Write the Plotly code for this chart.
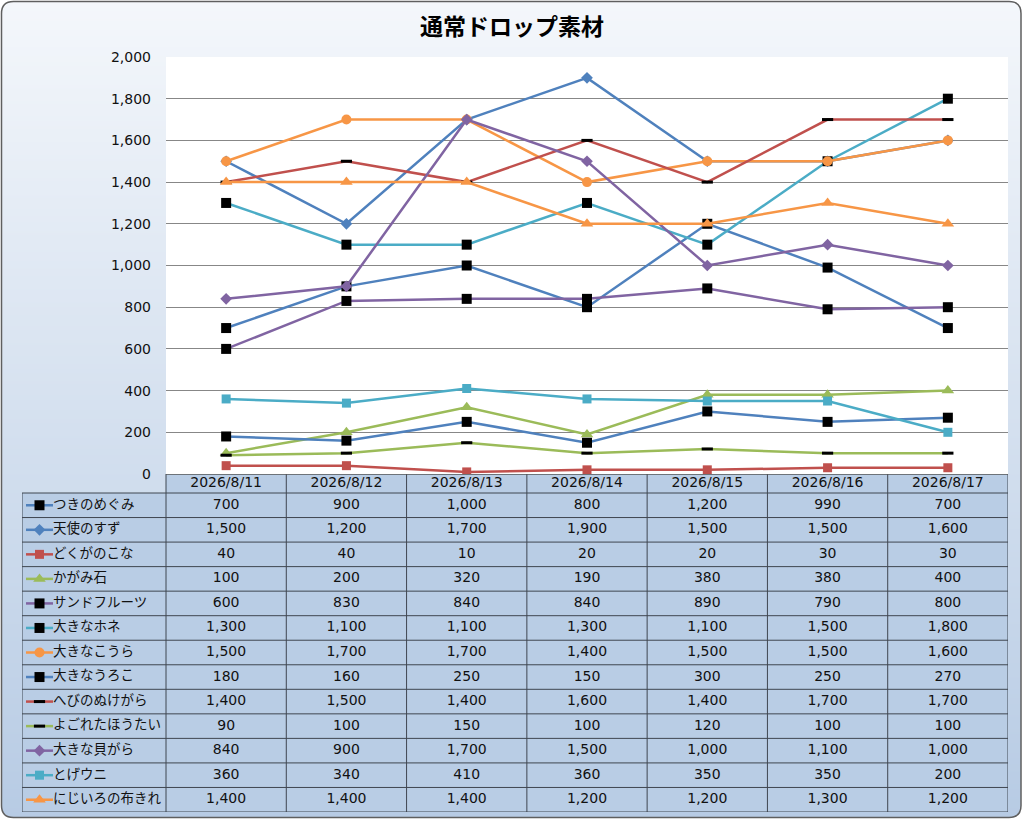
import math
import plotly.graph_objects as go

dates = ['2026/8/11', '2026/8/12', '2026/8/13', '2026/8/14', '2026/8/15', '2026/8/16', '2026/8/17']

names = ['つきのめぐみ', '天使のすず', 'どくがのこな', 'かがみ石', 'サンドフルーツ', '大きなホネ',
         '大きなこうら', '大きなうろこ', 'へびのぬけがら', 'よごれたほうたい', '大きな貝がら',
         'とげウニ', 'にじいろの布きれ']

tsuki_no_megumi = [700, 900, 1000, 800, 1200, 990, 700]
tenshi_no_suzu = [1500, 1200, 1700, 1900, 1500, 1500, 1600]
dokuga_no_kona = [40, 40, 10, 20, 20, 30, 30]
kagami_ishi = [100, 200, 320, 190, 380, 380, 400]
sand_fruits = [600, 830, 840, 840, 890, 790, 800]
ookina_hone = [1300, 1100, 1100, 1300, 1100, 1500, 1800]
ookina_koura = [1500, 1700, 1700, 1400, 1500, 1500, 1600]
ookina_uroko = [180, 160, 250, 150, 300, 250, 270]
hebi_no_nukegara = [1400, 1500, 1400, 1600, 1400, 1700, 1700]
yogoreta_houtai = [90, 100, 150, 100, 120, 100, 100]
ookina_kaigara = [840, 900, 1700, 1500, 1000, 1100, 1000]
toge_uni = [360, 340, 410, 360, 350, 350, 200]
nijiiro_nunokire = [1400, 1400, 1400, 1200, 1200, 1300, 1200]

series = [tsuki_no_megumi, tenshi_no_suzu, dokuga_no_kona, kagami_ishi, sand_fruits,
          ookina_hone, ookina_koura, ookina_uroko, hebi_no_nukegara, yogoreta_houtai,
          ookina_kaigara, toge_uni, nijiiro_nunokire]

BLUE, RED, GREEN, PURPLE, AQUA, ORANGE = '#4F81BD', '#C0504D', '#9BBB59', '#8064A2', '#4BACC6', '#F79646'
# line colour, marker symbol, marker colour, marker size
styles = [
    (BLUE, 'square', 'black', 10),
    (BLUE, 'diamond', BLUE, 9),
    (RED, 'square', RED, 9),
    (GREEN, 'triangle-up', GREEN, 11),
    (PURPLE, 'square', 'black', 10),
    (AQUA, 'square', 'black', 10),
    (ORANGE, 'circle', ORANGE, 10),
    (BLUE, 'square', 'black', 10),
    (RED, 'line-ew', 'black', 8),
    (GREEN, 'line-ew', 'black', 8),
    (PURPLE, 'diamond', PURPLE, 9),
    (AQUA, 'square', AQUA, 9),
    (ORANGE, 'triangle-up', ORANGE, 11),
]

FONT = 'Noto Sans CJK JP'
NUM_FONT = 'DejaVu Sans, Noto Sans CJK JP'
W, H = 1024, 820
PL, PR, PT, PB = 166, 1008, 57, 474      # plot area in pixels
TL, TB, HEAD = 22, 812, 19               # table left / bottom, header height
col_w = (PR - PL) / len(dates)
row_h = (TB - PB - HEAD) / len(names)
x2_left = -0.5 - (PL - TL) / col_w
head_u = HEAD / row_h


def px(x):
    return x / W


def py(y):
    return 1 - y / H


def marker_for(style):
    color, symbol, mcolor, size = style
    if symbol == 'line-ew':
        return dict(symbol=symbol, size=size, line=dict(color=mcolor, width=3))
    return dict(symbol=symbol, size=size, color=mcolor, line=dict(width=0))


fig = go.Figure()

# chart lines
for name, vals, st in zip(names, series, styles):
    fig.add_trace(go.Scatter(
        x=dates, y=vals, name=name, mode='lines+markers',
        line=dict(color=st[0], width=2.5), marker=marker_for(st),
        xaxis='x', yaxis='y', showlegend=False,
    ))

# data table: header, values, legend keys and names
fig.add_trace(go.Scatter(
    x=list(range(len(dates))), y=[-0.5 - head_u / 2] * len(dates), text=dates,
    mode='text', textfont=dict(family=NUM_FONT, size=14, color='#111'),
    xaxis='x2', yaxis='y2', showlegend=False, hoverinfo='skip',
))
for i, vals in enumerate(series):
    fig.add_trace(go.Scatter(
        x=list(range(len(dates))), y=[i] * len(dates), text=[f'{v:,}' for v in vals],
        mode='text', textfont=dict(family=NUM_FONT, size=14, color='#111'),
        xaxis='x2', yaxis='y2', showlegend=False, hoverinfo='skip',
    ))

kx0 = x2_left + 4 / col_w
kx1 = x2_left + 31 / col_w
for i, st in enumerate(styles):
    fig.add_trace(go.Scatter(
        x=[kx0, kx1], y=[i, i], mode='lines', line=dict(color=st[0], width=2.5),
        xaxis='x2', yaxis='y2', showlegend=False, hoverinfo='skip',
    ))
    fig.add_trace(go.Scatter(
        x=[(kx0 + kx1) / 2], y=[i], mode='markers', marker=marker_for(st),
        xaxis='x2', yaxis='y2', showlegend=False, hoverinfo='skip',
    ))
fig.add_trace(go.Scatter(
    x=[x2_left + 31 / col_w] * len(names), y=list(range(len(names))), text=names,
    mode='text', textposition='middle right', textfont=dict(family=FONT, size=13.5, color='#111'),
    xaxis='x2', yaxis='y2', showlegend=False, hoverinfo='skip',
))

shapes = []
# background gradient inside a rounded frame
X0, X1, Y0, Y1, R = 1.5, 1021, 1.5, 817.5, 12
top_c, bot_c = (244, 247, 251), (183, 203, 228)
step = 2
y = Y0
while y < Y1:
    ym = y + step / 2
    inset = 0
    if ym < Y0 + R:
        d = Y0 + R - ym
        inset = R - math.sqrt(max(R * R - d * d, 0))
    elif ym > Y1 - R:
        d = ym - (Y1 - R)
        inset = R - math.sqrt(max(R * R - d * d, 0))
    t = (ym - Y0) / (Y1 - Y0)
    c = tuple(round(a + (b - a) * t) for a, b in zip(top_c, bot_c))
    shapes.append(dict(type='rect', xref='paper', yref='paper', layer='below',
                       x0=px(X0 + inset), x1=px(X1 - inset), y0=py(min(y + step + 0.6, Y1)), y1=py(y),
                       fillcolor=f'rgb{c}', line=dict(width=0)))
    y += step

frame = (f"M {px(X0 + R)},{py(Y0)} L {px(X1 - R)},{py(Y0)} Q {px(X1)},{py(Y0)} {px(X1)},{py(Y0 + R)} "
         f"L {px(X1)},{py(Y1 - R)} Q {px(X1)},{py(Y1)} {px(X1 - R)},{py(Y1)} "
         f"L {px(X0 + R)},{py(Y1)} Q {px(X0)},{py(Y1)} {px(X0)},{py(Y1 - R)} "
         f"L {px(X0)},{py(Y0 + R)} Q {px(X0)},{py(Y0)} {px(X0 + R)},{py(Y0)} Z")
shapes.append(dict(type='path', xref='paper', yref='paper', layer='below', path=frame,
                   line=dict(color='#5f5f5f', width=1.5)))

# white plot area
shapes.append(dict(type='rect', xref='paper', yref='paper', layer='below',
                   x0=px(PL), x1=px(PR), y0=py(PB), y1=py(PT), fillcolor='white', line=dict(width=0)))

# table cells
n = len(names)
last = len(dates) - 0.5
shapes.append(dict(type='rect', xref='x2', yref='y2', layer='below', x0=-0.5, x1=last,
                   y0=-0.5 - head_u, y1=-0.5, fillcolor='#b9cde5', line=dict(width=0)))
shapes.append(dict(type='rect', xref='x2', yref='y2', layer='below', x0=x2_left, x1=last,
                   y0=-0.5, y1=n - 0.5, fillcolor='#b9cde5', line=dict(width=0)))
grid = dict(color='#3f4650', width=1)
for k in range(len(dates) + 1):
    shapes.append(dict(type='line', xref='x2', yref='y2', x0=k - 0.5, x1=k - 0.5,
                       y0=-0.5 - head_u, y1=n - 0.5, line=grid))
shapes.append(dict(type='line', xref='x2', yref='y2', x0=x2_left, x1=x2_left,
                   y0=-0.5, y1=n - 0.5, line=grid))
for r in range(n + 1):
    shapes.append(dict(type='line', xref='x2', yref='y2', x0=x2_left, x1=last,
                       y0=r - 0.5, y1=r - 0.5, line=grid))
shapes.append(dict(type='line', xref='x2', yref='y2', x0=-0.5, x1=last,
                   y0=-0.5 - head_u, y1=-0.5 - head_u, line=dict(color='#555', width=1.5)))

fig.update_layout(
    width=W, height=H,
    margin=dict(l=0, r=0, t=0, b=0),
    paper_bgcolor='white',
    plot_bgcolor='rgba(0,0,0,0)',
    title=dict(text='<b>通常ドロップ素材</b>', x=0.5, xanchor='center', y=py(27), yanchor='middle',
               font=dict(family=FONT, size=23, color='black')),
    font=dict(family=FONT, size=14, color='#111'),
    xaxis=dict(type='category', domain=[px(PL), px(PR)], range=[-0.5, len(dates) - 0.5],
               showticklabels=False, showgrid=False, showline=False, zeroline=False, anchor='y'),
    yaxis=dict(domain=[py(PB), py(PT)], range=[0, 2000], dtick=200, tickformat=',',
               showgrid=True, gridcolor='#878787', gridwidth=1, zeroline=False, showline=False,
               ticks='', ticklabelstandoff=14, automargin=False,
               tickfont=dict(family=NUM_FONT, size=14, color='#111'), anchor='x'),
    xaxis2=dict(domain=[px(TL), px(PR)], range=[x2_left, last], visible=False, anchor='y2'),
    yaxis2=dict(domain=[py(TB), py(PB)], range=[n - 0.5, -0.5 - head_u], visible=False, anchor='x2'),
    shapes=shapes,
    hovermode='closest',
)

fig.write_html('out.html', config={'displayModeBar': False},
               post_script="document.body.style.margin='0';document.body.style.overflow='hidden';")
